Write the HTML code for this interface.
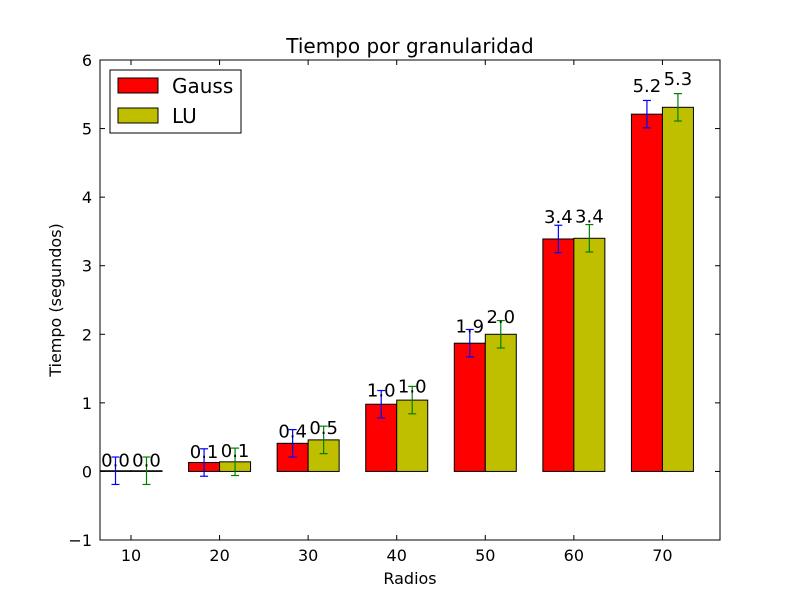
<!DOCTYPE html>
<html><head><meta charset="utf-8"><style>
body{margin:0;background:#fff;}
svg text{font-family:"DejaVu Sans","Liberation Sans",sans-serif;}
</style></head><body>
<svg id="chart" width="800" height="600" viewBox="0 0 800 600">
<rect x="0" y="0" width="800" height="600" fill="#fff"/>
<text x="410" y="53" font-size="20" text-anchor="middle">Tiempo por granularidad</text>
<text x="410" y="584" font-size="16" text-anchor="middle">Radios</text>
<text x="61" y="300" font-size="16" text-anchor="middle" transform="rotate(-90 61 300)">Tiempo (segundos)</text>
<g id="marks"></g>
<g id="axes"></g>
<g>
<rect x="110" y="70" width="131" height="63" fill="#fff" stroke="#000" stroke-width="1"/>
<rect x="118" y="78" width="40" height="15" fill="#ff0000" stroke="#000"/>
<text x="172" y="93" font-size="20">Gauss</text>
<rect x="118" y="108" width="40" height="15" fill="#bfbf00" stroke="#000"/>
<text x="172" y="123" font-size="20">LU</text>
</g>
</svg>
<script>
const categories = ["10","20","30","40","50","60","70"];
const gaussValues = [0.01, 0.13, 0.41, 0.98, 1.87, 3.39, 5.21];
const luValues = [0.01, 0.14, 0.46, 1.04, 2.00, 3.40, 5.31];
const gaussErr = [0.2, 0.2, 0.2, 0.2, 0.2, 0.2, 0.2];
const luErr = [0.2, 0.2, 0.2, 0.2, 0.2, 0.2, 0.2];
const yTicks = [-1, 0, 1, 2, 3, 4, 5, 6];

const L=100,R=720,T=60,B=540,xMin=0,xMax=7,yMin=-1,yMax=6,W=0.35;
const xs=v=>L+(v-xMin)/(xMax-xMin)*(R-L);
const ys=v=>B-(v-yMin)/(yMax-yMin)*(B-T);
const NS="http://www.w3.org/2000/svg";
const marks=document.getElementById('marks'), axes=document.getElementById('axes');
function mk(tag,attrs,parent){const e=document.createElementNS(NS,tag);for(const k in attrs)e.setAttribute(k,attrs[k]);parent.appendChild(e);return e;}

function series(vals,errs,off,fill,ecol,name){
  vals.forEach((v,i)=>{
    const x0=xs(i+off), x1=xs(i+off+W), y0=ys(0), y1=ys(v);
    const r=mk('rect',{x:x0,y:Math.min(y0,y1),width:x1-x0,height:Math.abs(y0-y1),fill:fill,stroke:'#000','stroke-width':1},marks);
    
    
    const cx=xs(i+off+W/2), ya=ys(v+errs[i]), yb=ys(v-errs[i]);
    const g=mk('g',{stroke:ecol,'stroke-width':1.2},marks);
    
    
    mk('line',{x1:cx,y1:ya,x2:cx,y2:yb},g);
    mk('line',{x1:cx-4,y1:ya,x2:cx+4,y2:ya},g);
    mk('line',{x1:cx-4,y1:yb,x2:cx+4,y2:yb},g);
    const t=mk('text',{x:cx,y:ys(v*1.05+0.15)+6,'font-size':18,'text-anchor':'middle'},marks);
    t.textContent=v.toFixed(1);
    
    
  });
}
series(gaussValues,gaussErr,0,'#ff0000','#0000ff','gauss');
series(luValues,luErr,W,'#bfbf00','#008000','lu');

const frame=mk('rect',{x:L,y:T,width:R-L,height:B-T,fill:'none',stroke:'#000','stroke-width':1},axes);


yTicks.forEach(v=>{
  const y=ys(v);
  mk('line',{x1:L,y1:y,x2:L+5,y2:y,stroke:'#000'},axes);
  mk('line',{x1:R,y1:y,x2:R-5,y2:y,stroke:'#000'},axes);
  const t=mk('text',{x:L-8,y:y+6,'font-size':16,'text-anchor':'end'},axes);
  t.textContent=v<0?'\u2212'+Math.abs(v):String(v);
  
  
});
categories.forEach((c,i)=>{
  const x=xs(i+W);
  mk('line',{x1:x,y1:B,x2:x,y2:B-5,stroke:'#000'},axes);
  mk('line',{x1:x,y1:T,x2:x,y2:T+5,stroke:'#000'},axes);
  const t=mk('text',{x:x,y:B+21,'font-size':16,'text-anchor':'middle'},axes);
  t.textContent=c;
  
  
});
</script>
</body></html>
